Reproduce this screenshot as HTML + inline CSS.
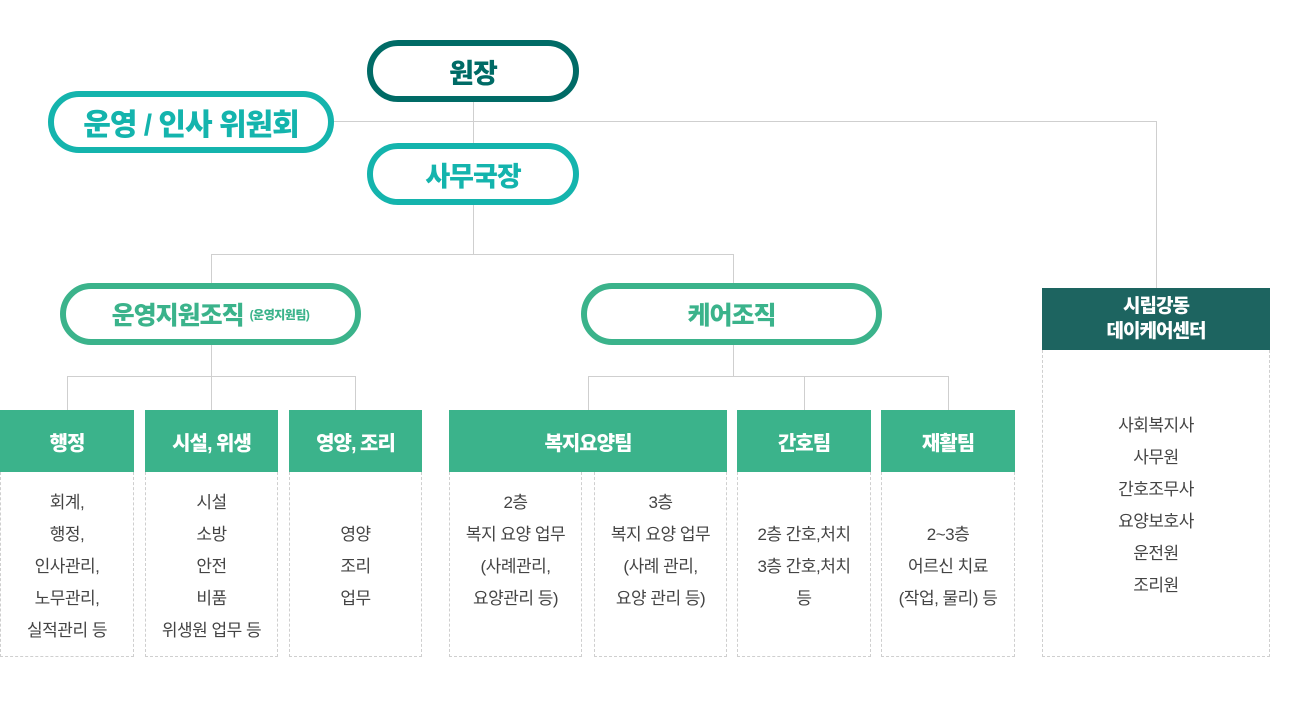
<!DOCTYPE html>
<html><head><meta charset="utf-8"><style>
*{margin:0;padding:0;box-sizing:border-box}
body{width:1300px;height:708px;background:#fff;position:relative;overflow:hidden;font-family:"Liberation Sans","Noto Sans CJK KR",sans-serif}
.l{position:absolute;background:#cfcfcf}
.pill{position:absolute;border-radius:40px;background:#fff;display:flex;align-items:center;justify-content:center;font-weight:900;letter-spacing:-1px}
.h{position:absolute;background:#3bb38b;color:#fff;font-weight:900;font-size:20px;display:flex;align-items:center;justify-content:center;letter-spacing:-1px}
.b{position:absolute;border:1px dashed #cfcfcf;border-top:none;color:#444;font-size:17px;line-height:32px;text-align:center;letter-spacing:-0.5px}
</style></head><body>
<div class="l" style="left:473px;top:100px;width:1px;height:155px"></div>
<div class="l" style="left:330px;top:121px;width:827px;height:1px"></div>
<div class="l" style="left:1156px;top:121px;width:1px;height:168px"></div>
<div class="l" style="left:211px;top:254px;width:523px;height:1px"></div>
<div class="l" style="left:211px;top:254px;width:1px;height:30px"></div>
<div class="l" style="left:733px;top:254px;width:1px;height:30px"></div>
<div class="l" style="left:211px;top:343px;width:1px;height:34px"></div>
<div class="l" style="left:67px;top:376px;width:289px;height:1px"></div>
<div class="l" style="left:67px;top:376px;width:1px;height:34px"></div>
<div class="l" style="left:211px;top:376px;width:1px;height:34px"></div>
<div class="l" style="left:355px;top:376px;width:1px;height:34px"></div>
<div class="l" style="left:733px;top:343px;width:1px;height:34px"></div>
<div class="l" style="left:588px;top:376px;width:361px;height:1px"></div>
<div class="l" style="left:588px;top:376px;width:1px;height:34px"></div>
<div class="l" style="left:804px;top:376px;width:1px;height:34px"></div>
<div class="l" style="left:948px;top:376px;width:1px;height:34px"></div>

<div class="pill" style="left:367px;top:40px;width:212px;height:62px;border:6px solid #006b66;color:#006b66;font-size:27px">원장</div>
<div class="pill" style="left:48px;top:91px;width:286px;height:62px;border:6px solid #14b4ad;color:#14b4ad;font-size:30px">운영 / 인사 위원회</div>
<div class="pill" style="left:367px;top:143px;width:212px;height:62px;border:6px solid #14b4ad;color:#14b4ad;font-size:27px">사무국장</div>
<div class="pill" style="left:60px;top:283px;width:301px;height:62px;border:6px solid #3bb38b;color:#3bb38b;font-size:25px">운영지원조직<span style="font-size:12px;margin-left:6px;letter-spacing:-0.5px">(운영지원팀)</span></div>
<div class="pill" style="left:581px;top:283px;width:301px;height:62px;border:6px solid #3bb38b;color:#3bb38b;font-size:25px">케어조직</div>

<div class="h" style="left:0;top:410px;width:134px;height:62px">행정</div>
<div class="b" style="left:0;top:472px;width:134px;height:185px;padding-top:15px">회계,<br>행정,<br>인사관리,<br>노무관리,<br>실적관리 등</div>
<div class="h" style="left:145px;top:410px;width:133px;height:62px">시설, 위생</div>
<div class="b" style="left:145px;top:472px;width:133px;height:185px;padding-top:15px">시설<br>소방<br>안전<br>비품<br>위생원 업무 등</div>
<div class="h" style="left:289px;top:410px;width:133px;height:62px">영양, 조리</div>
<div class="b" style="left:289px;top:472px;width:133px;height:185px;padding-top:47px">영양<br>조리<br>업무</div>

<div class="h" style="left:449px;top:410px;width:278px;height:62px">복지요양팀</div>
<div class="b" style="left:449px;top:472px;width:133px;height:185px;padding-top:15px">2층<br>복지 요양 업무<br>(사례관리,<br>요양관리 등)</div>
<div class="b" style="left:594px;top:472px;width:133px;height:185px;padding-top:15px">3층<br>복지 요양 업무<br>(사례 관리,<br>요양 관리 등)</div>
<div class="h" style="left:737px;top:410px;width:134px;height:62px">간호팀</div>
<div class="b" style="left:737px;top:472px;width:134px;height:185px;padding-top:47px">2층 간호,처치<br>3층 간호,처치<br>등</div>
<div class="h" style="left:881px;top:410px;width:134px;height:62px">재활팀</div>
<div class="b" style="left:881px;top:472px;width:134px;height:185px;padding-top:47px">2~3층<br>어르신 치료<br>(작업, 물리) 등</div>

<div class="h" style="left:1042px;top:288px;width:228px;height:62px;background:#1d6460;font-size:19px;line-height:25px;text-align:center">시립강동<br>데이케어센터</div>
<div class="b" style="left:1042px;top:350px;width:228px;height:307px;padding-top:60px">사회복지사<br>사무원<br>간호조무사<br>요양보호사<br>운전원<br>조리원</div>
</body></html>
